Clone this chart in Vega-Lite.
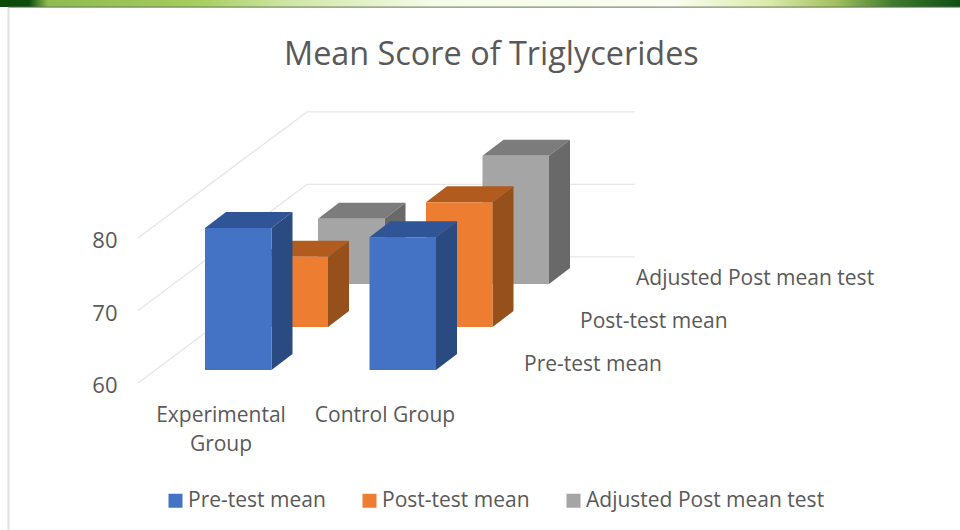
{
"$schema":"https://vega.github.io/schema/vega-lite/v6.json",
"width":960,"height":530,"padding":0,"autosize":{"type":"none"},"background":"white",
"title":{"text":"Mean Score of Triglycerides","font":"Open Sans","fontSize":32.4,"fontWeight":"normal","color":"#595959","anchor":"start","frame":"group","dx":284,"dy":0,"offset":-71,"baseline":"top"},
"config":{"view":{"stroke":null},"text":{"font":"Open Sans"}},
"resolve":{"axis":{"y":"independent"}},
"datasets":{
"bars":[
{"group":"Experimental Group","series":"Pre-test mean","value":79.6},
{"group":"Control Group","series":"Pre-test mean","value":78.3},
{"group":"Experimental Group","series":"Post-test mean","value":69.7},
{"group":"Control Group","series":"Post-test mean","value":77.2},
{"group":"Experimental Group","series":"Adjusted Post mean test","value":69.0},
{"group":"Control Group","series":"Adjusted Post mean test","value":77.7}
],
"ticks":[{"value":60},{"value":70},{"value":80}],
"seriesNames":[{"series":"Pre-test mean"},{"series":"Post-test mean"},{"series":"Adjusted Post mean test"}],
"groupNames":[{"group":"Experimental\nGroup"},{"group":"Control Group"}]
},
"data":{"name":"bars"},
"transform":[
{"calculate":"indexof(['Pre-test mean','Post-test mean','Adjusted Post mean test'],datum.series)","as":"si"},
{"calculate":"datum.group==='Control Group'?1:0","as":"gi"},
{"calculate":"205+164.5*datum.gi+56.5*datum.si","as":"x0"},
{"calculate":"datum.x0+66.5","as":"x1"},
{"calculate":"1.79+5.93*datum.si","as":"shift"},
{"calculate":"datum.value+datum.shift","as":"topV"},
{"calculate":"60+datum.shift","as":"baseV"},
{"calculate":"[0,1]","as":"cs"},
{"flatten":["cs"],"as":["c"]},
{"calculate":"datum.x1+21*datum.c","as":"sideX"},
{"calculate":"datum.x0+21*datum.c","as":"topX0"},
{"calculate":"datum.x1+21*datum.c","as":"topX1"},
{"calculate":"datum.topV+2.207*datum.c","as":"depthTop"},
{"calculate":"datum.baseV+2.207*datum.c","as":"depthBase"}
],
"layer":[
{"data":{"values":[{"part":"banner"}]},"mark":{"type":"rect","fill":{"gradient":"linear","x1":0,"y1":0,"x2":1,"y2":0,"stops":[{"offset":0,"color":"#0a4a0a"},{"offset":0.03,"color":"#0c4d0c"},{"offset":0.05,"color":"#8fbb50"},{"offset":0.2,"color":"#a5cc5c"},{"offset":0.3,"color":"#cfe6a4"},{"offset":0.45,"color":"#f6fbe8"},{"offset":0.7,"color":"#fbfdf0"},{"offset":0.8,"color":"#dcebaa"},{"offset":0.87,"color":"#a3c060"},{"offset":0.93,"color":"#3f7b2d"},{"offset":1,"color":"#0e4f12"}]}},
"encoding":{"x":{"datum":0,"type":"quantitative","scale":{"domain":[0,960]},"axis":null},"x2":{"datum":960},"y":{"datum":112.83,"type":"quantitative","scale":{"domain":[39.72,112.83],"nice":false,"zero":false},"axis":null},"y2":{"datum":111.87}}},
{"data":{"values":[{"part":"bannerEdge"}]},"mark":{"type":"rule","color":"#5f6f5f","strokeWidth":1},
"encoding":{"x":{"datum":8,"type":"quantitative","scale":{"domain":[0,960]},"axis":null},"x2":{"datum":960},"y":{"datum":111.85,"type":"quantitative","scale":{"domain":[39.72,112.83],"nice":false,"zero":false},"axis":null}}},
{"data":{"values":[{"part":"frame"}]},"mark":{"type":"rule","color":"#e0e0e0","strokeWidth":2},
"encoding":{"x":{"datum":8.5,"type":"quantitative","scale":{"domain":[0,960]},"axis":null},"y":{"datum":111.75,"type":"quantitative","scale":{"domain":[39.72,112.83],"nice":false,"zero":false},"axis":null},"y2":{"datum":39.72}}},
{"data":{"name":"ticks"},
"transform":[{"calculate":"[0,1,2]","as":"ps"},{"flatten":["ps"],"as":["p"]},{"calculate":"[138,307,635][datum.p]","as":"gx"},{"calculate":"datum.value+(datum.p>0?17.4:0)","as":"gy"}],
"mark":{"type":"line","color":"#e6e6e6","strokeWidth":1.3},
"encoding":{"x":{"field":"gx","type":"quantitative","scale":{"domain":[0,960]},"axis":null},
"y":{"field":"gy","type":"quantitative","scale":{"domain":[39.72,112.83],"nice":false,"zero":false},"axis":null},"detail":{"field":"value"},"order":{"field":"p"}}},
{"data":{"name":"ticks"},"mark":{"type":"point","opacity":0},
"encoding":{"x":{"datum":138,"type":"quantitative","scale":{"domain":[0,960]},"axis":null},
"y":{"field":"value","type":"quantitative","scale":{"domain":[39.72,112.83],"nice":false,"zero":false},
"axis":{"values":[60,70,80],"title":null,"domain":false,"ticks":false,"grid":false,"offset":-117,"labelPadding":0,"labelOffset":3,"labelFont":"Open Sans","labelFontSize":22,"labelColor":"#595959"}}}},

{"transform":[{"filter":"datum.si===2"}],"mark":{"type":"area","color":"#7c7c7c","orient":"horizontal"},"encoding":{"y":{"field":"depthTop","type":"quantitative","scale":{"domain":[39.72,112.83],"nice":false,"zero":false},"axis":null},"x":{"field":"topX0","type":"quantitative","scale":{"domain":[0,960]},"axis":null},"x2":{"field":"topX1"},"detail":{"field":"group"}}},
{"transform":[{"filter":"datum.si===2"}],"mark":{"type":"area","color":"#696969"},"encoding":{"x":{"field":"sideX","type":"quantitative","scale":{"domain":[0,960]},"axis":null},"y":{"field":"depthTop","type":"quantitative","scale":{"domain":[39.72,112.83],"nice":false,"zero":false},"axis":null},"y2":{"field":"depthBase"},"detail":{"field":"group"}}},
{"transform":[{"filter":"datum.si===2 && datum.c===0"}],"mark":{"type":"rect"},"encoding":{"x":{"field":"x0","type":"quantitative","scale":{"domain":[0,960]},"axis":null},"x2":{"field":"x1"},"y":{"field":"topV","type":"quantitative","scale":{"domain":[39.72,112.83],"nice":false,"zero":false},"axis":null},"y2":{"field":"baseV"},
"color":{"field":"series","type":"nominal","scale":{"domain":["Pre-test mean","Post-test mean","Adjusted Post mean test"],"range":["#4472C4","#ED7D31","#A5A5A5"]},"legend":{"title":null,"orient":"none","legendX":165,"legendY":490,"direction":"horizontal","columns":3,"columnPadding":33,"symbolType":"square","symbolSize":196,"symbolStrokeWidth":0,"labelFont":"Open Sans","labelFontSize":21,"labelColor":"#595959","labelOffset":2,"labelLimit":400}}}},

{"transform":[{"filter":"datum.si===1"}],"mark":{"type":"area","color":"#b25b1f","orient":"horizontal"},"encoding":{"y":{"field":"depthTop","type":"quantitative","scale":{"domain":[39.72,112.83],"nice":false,"zero":false},"axis":null},"x":{"field":"topX0","type":"quantitative","scale":{"domain":[0,960]},"axis":null},"x2":{"field":"topX1"},"detail":{"field":"group"}}},
{"transform":[{"filter":"datum.si===1"}],"mark":{"type":"area","color":"#95501c"},"encoding":{"x":{"field":"sideX","type":"quantitative","scale":{"domain":[0,960]},"axis":null},"y":{"field":"depthTop","type":"quantitative","scale":{"domain":[39.72,112.83],"nice":false,"zero":false},"axis":null},"y2":{"field":"depthBase"},"detail":{"field":"group"}}},
{"transform":[{"filter":"datum.si===1 && datum.c===0"}],"mark":{"type":"rect"},"encoding":{"x":{"field":"x0","type":"quantitative","scale":{"domain":[0,960]},"axis":null},"x2":{"field":"x1"},"y":{"field":"topV","type":"quantitative","scale":{"domain":[39.72,112.83],"nice":false,"zero":false},"axis":null},"y2":{"field":"baseV"},
"color":{"field":"series","type":"nominal","scale":{"domain":["Pre-test mean","Post-test mean","Adjusted Post mean test"],"range":["#4472C4","#ED7D31","#A5A5A5"]}}}},

{"transform":[{"filter":"datum.si===0"}],"mark":{"type":"area","color":"#2f5597","orient":"horizontal"},"encoding":{"y":{"field":"depthTop","type":"quantitative","scale":{"domain":[39.72,112.83],"nice":false,"zero":false},"axis":null},"x":{"field":"topX0","type":"quantitative","scale":{"domain":[0,960]},"axis":null},"x2":{"field":"topX1"},"detail":{"field":"group"}}},
{"transform":[{"filter":"datum.si===0"}],"mark":{"type":"area","color":"#2a4a82"},"encoding":{"x":{"field":"sideX","type":"quantitative","scale":{"domain":[0,960]},"axis":null},"y":{"field":"depthTop","type":"quantitative","scale":{"domain":[39.72,112.83],"nice":false,"zero":false},"axis":null},"y2":{"field":"depthBase"},"detail":{"field":"group"}}},
{"transform":[{"filter":"datum.si===0 && datum.c===0"}],"mark":{"type":"rect"},"encoding":{"x":{"field":"x0","type":"quantitative","scale":{"domain":[0,960]},"axis":null},"x2":{"field":"x1"},"y":{"field":"topV","type":"quantitative","scale":{"domain":[39.72,112.83],"nice":false,"zero":false},"axis":null},"y2":{"field":"baseV"},
"color":{"field":"series","type":"nominal","scale":{"domain":["Pre-test mean","Post-test mean","Adjusted Post mean test"],"range":["#4472C4","#ED7D31","#A5A5A5"]}}}},

{"data":{"name":"seriesNames"},
"transform":[{"calculate":"indexof(['Pre-test mean','Post-test mean','Adjusted Post mean test'],datum.series)","as":"si"},{"calculate":"524+56*datum.si","as":"lx"},{"calculate":"62.45+5.93*datum.si","as":"ly"}],
"mark":{"type":"text","align":"left","baseline":"middle","fontSize":21,"color":"#595959","font":"Open Sans"},
"encoding":{"x":{"field":"lx","type":"quantitative","scale":{"domain":[0,960]},"axis":null},"y":{"field":"ly","type":"quantitative","scale":{"domain":[39.72,112.83],"nice":false,"zero":false},"axis":null},"text":{"field":"series"}}},
{"data":{"name":"groupNames"},
"transform":[{"calculate":"datum.group==='Control Group'?385:221","as":"lx"},{"calculate":"57.0","as":"ly"}],
"mark":{"type":"text","align":"center","baseline":"top","fontSize":21,"lineHeight":29,"lineBreak":"\n","color":"#595959","font":"Open Sans"},
"encoding":{"x":{"field":"lx","type":"quantitative","scale":{"domain":[0,960]},"axis":null},"y":{"field":"ly","type":"quantitative","scale":{"domain":[39.72,112.83],"nice":false,"zero":false},"axis":null},"text":{"field":"group"}}}
]
}
